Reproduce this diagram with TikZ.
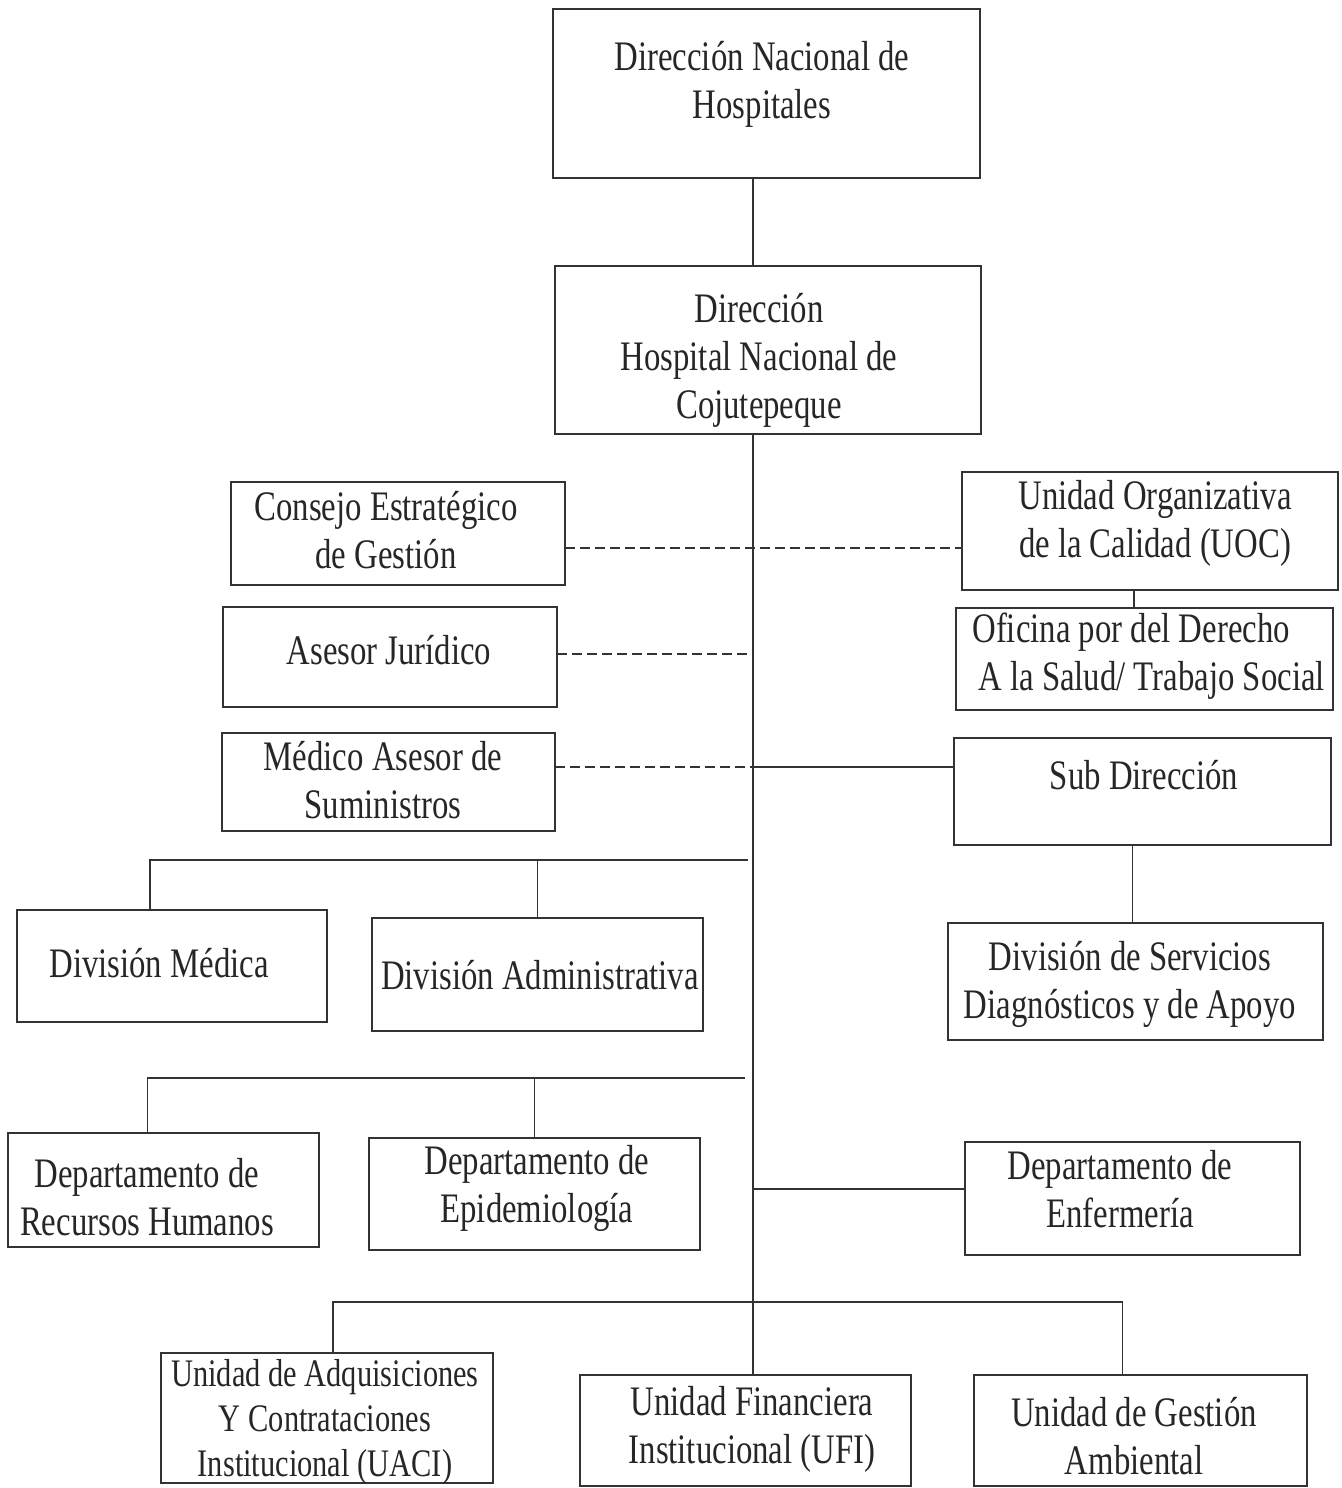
\documentclass[tikz,border=0pt]{standalone}
\usepackage{fontspec}
\setmainfont{Liberation Serif}[FakeStretch = 0.78]
\usepackage{tikz}
\usetikzlibrary{positioning}
\tikzset{box/.style 2 args = {draw = black!80, line width = 0.6pt, inner sep = 0, outer sep = 0,
    minimum width = #1*0.5pt, minimum height = #2*0.5pt},
  lbl/.style = {align = center, inner sep = 0, text = black!85},
  link/.style = {draw = black!80, line width = 0.6pt},
  dashedlink/.style = {link, dash pattern = on 5pt off 2.5pt}}

\begin{document}
\begin{tikzpicture}[x = 0.5pt, y = -0.5pt, font = \fontsize{21}{24}\selectfont]
          \useasboundingbox (0, 0) rectangle (1341, 1488);

          % boxes
          \node [box = {427}{169}] (dnh) at (766.5, 93.5) {};
          \node [box = {426}{168}] (dir) at (768, 350) {};
          \node [box = {334}{103}] (ceg) at (398, 533.5) {};
          \node [box = {376}{118}] (uoc) at (1150, 531) {};
          \node [box = {377}{102}] (odc) at (1144.5, 659) {};
          \node [box = {334}{100}] (aj) at (390, 657) {};
          \node [box = {333}{98}] (mas) at (388.5, 782) {};
          \node [box = {377}{107}] (sub) at (1142.5, 791.5) {};
          \node [box = {310}{112}] (dm) at (172, 966) {};
          \node [box = {331}{113}] (da) at (537.5, 974.5) {};
          \node [box = {375}{117}] (dsd) at (1135.5, 981.5) {};
          \node [box = {311}{114}] (rrhh) at (163.5, 1190) {};
          \node [box = {331}{112}] (epi) at (534.5, 1194) {};
          \node [box = {335}{113}] (enf) at (1132.5, 1198.5) {};
          \node [box = {332}{130}] (uaci) at (327, 1418) {};
          \node [box = {331}{111}] (ufi) at (745.5, 1430.5) {};
          \node [box = {333}{111}] (uga) at (1140.5, 1430.5) {};

          % texts
          \node [lbl] (dnh-t) at (762, 84) {Dirección Nacional de\\Hospitales};
          \node [lbl] (dir-t) at (759, 360.5) {Dirección\\Hospital Nacional de\\Cojutepeque};
          \node [lbl] (ceg-t) at (386, 530.5) {Consejo Estratégico\\de Gestión};
          \node [lbl] (uoc-t) at (1155, 523) {Unidad Organizativa\\de la Calidad (UOC)};
          \node [lbl, align = left, anchor = west] (odc-t) at (972, 656) {Oficina por del Derecho\\\hspace{3pt}A la Salud/ Trabajo Social};
          \node [lbl] (aj-t) at (389, 650.5) {Asesor Jurídico};
          \node [lbl] (mas-t) at (383, 780.5) {Médico Asesor de\\Suministros};
          \node [lbl] (sub-t) at (1144, 775.5) {Sub Dirección};
          \node [lbl] (dm-t) at (159, 963.5) {División Médica};
          \node [lbl] (da-t) at (540, 975.5) {División Administrativa};
          \node [lbl] (dsd-t) at (1130, 984) {División de Servicios\\Diagnósticos y de Apoyo};
          \node [lbl] (rrhh-t) at (147, 1197) {Departamento de\\Recursos Humanos};
          \node [lbl] (epi-t) at (537, 1188) {Departamento de\\Epidemiología};
          \node [lbl] (enf-t) at (1120, 1189.5) {Departamento de\\Enfermería};
          \node [lbl, font = \fontsize{19.5}{22.5}\selectfont] (uaci-t) at (325, 1422.5) {Unidad de Adquisiciones\\Y Contrataciones\\Institucional (UACI)};
          \node [lbl] (ufi-t) at (752, 1429) {Unidad Financiera\\Institucional (UFI)};
          \node [lbl] (uga-t) at (1134, 1436.5) {Unidad de Gestión\\Ambiental};

          % junctions on the trunk
          \coordinate (j1) at (753, 548);
          \coordinate (j2) at (753, 654);
          \coordinate (j3) at (753, 767);
          \coordinate (j4) at (748, 860);
          \coordinate (j5) at (745, 1078);
          \coordinate (j6) at (753, 1189);
          \coordinate (j7) at (753, 1302);

          \draw [link] (dnh.south -| j1) -- (dir.north -| j1);
          \draw [link] (dir.south -| j1) -- (ufi.north -| j1);

          \draw [dashedlink] (ceg.east |- j1) -- (uoc.west |- j1);
          \draw [dashedlink] (aj.east |- j2) -- (j2);
          \draw [dashedlink] (mas.east |- j3) -- (j3);
          \draw [link] (j3) -- (sub.west |- j3);

          \draw [link] ([xshift = -8pt]uoc.south) -- ([xshift = -8pt]uoc.south |- odc.north);
          \draw [link] ([xshift = -5pt]sub.south) -- ([xshift = -5pt]sub.south |- dsd.north);

          \draw [link] ([xshift = -11pt]dm.north) |- (j4);
          \draw [link] (da.north) -- (da.north |- j4);
          \draw [link] ([xshift = -8pt]rrhh.north) |- (j5);
          \draw [link] (epi.north) -- (epi.north |- j5);
          \draw [link] (j6) -- (enf.west |- j6);
          \draw [link] ([xshift = 3pt]uaci.north) |- (j7) -| ([xshift = -9pt]uga.north);
        \end{tikzpicture}
\end{document}
